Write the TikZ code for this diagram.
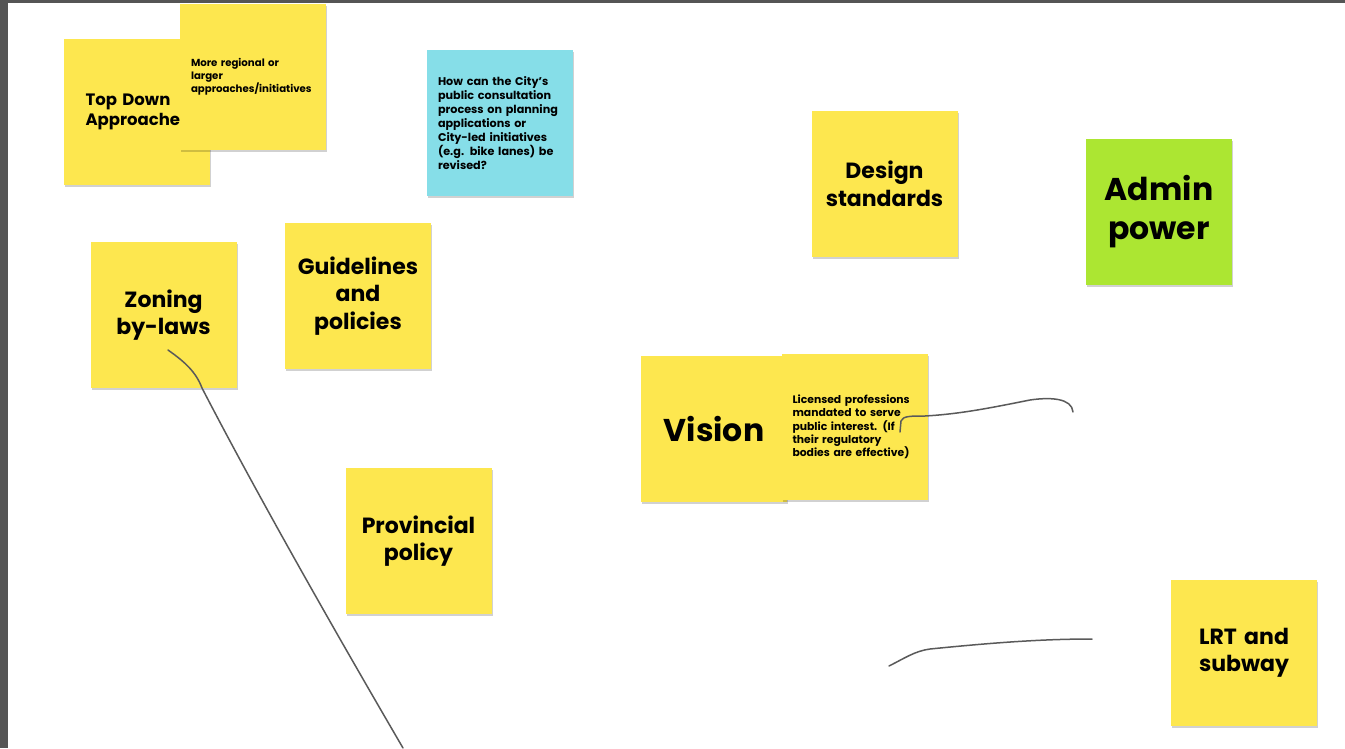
\documentclass[tikz,border=0pt]{standalone}
\usepackage{fontspec}
\setmainfont{Poppins}
\usetikzlibrary{shadows}
\definecolor{noteyellow}{HTML}{FDE74F}
\definecolor{noteblue}{HTML}{86DEE8}
\definecolor{notegreen}{HTML}{ACE632}
\definecolor{inkgray}{HTML}{5A5A5A}
\definecolor{framegray}{HTML}{555555}
\newcommand{\fsz}[2]{\fontsize{#1}{#2}\selectfont}
\begin{document}
\begin{tikzpicture}[x=1pt,y=-1pt,
  note/.style={rectangle, fill=noteyellow, minimum width=146pt, minimum height=146pt,
    inner sep=0pt,
    drop shadow={shadow xshift=1pt, shadow yshift=-2pt, fill=black, opacity=.18}},
  bignote/.style={note, align=center, text width=140pt, font=\bfseries\fsz{22}{27.5}},
  hugenote/.style={note, align=center, text width=140pt, font=\bfseries\fsz{31.5}{38.5}},
  smallnote/.style={note, align=left, text width=124pt, inner xsep=11pt},
  ink/.style={draw=inkgray, line width=1.5pt, line cap=round, line join=round}]
\useasboundingbox (0,0) rectangle (1345,748);
\fill[white] (0,0) rectangle (1345,748);
\fill[framegray] (0,0) rectangle (8,748);
\fill[framegray] (0,0) rectangle (1345,3);
% top left pair
\node[note, align=left, text width=102pt, inner xsep=22pt, font=\bfseries\fsz{16.5}{20}]
  (topdown) at (136.5,112) {Top Down\\Approache};
\node[smallnote, font=\bfseries\fsz{10.2}{13}] (regional) at (253,77)
  {More regional or\\larger\\approaches/initiatives};
\node[smallnote, fill=noteblue, font=\bfseries\fsz{11.2}{14}] (consult) at (500,123)
  {How can the City's\\public consultation\\process on planning\\applications or\\City-led initiatives\\(e.g. bike lanes) be\\revised?};
% right column
\node[bignote] (design) at (884.5,184) {Design\\standards};
\node[hugenote, fill=notegreen] (admin) at (1159,211.5) {Admin\\power};
\node[bignote] (zoning) at (163.5,315) {Zoning\\by-laws};
\node[bignote] (guide) at (358,296) {Guidelines\\and\\policies};
\node[hugenote] (vision) at (714,429) {Vision};
\node[smallnote, font=\bfseries\fsz{10.8}{13.3}] (licensed) at (854.5,427)
  {Licensed professions\\mandated to serve\\public interest. (If\\their regulatory\\bodies are effective)};
\node[bignote] (prov) at (418.5,541) {Provincial\\policy};
\node[bignote] (lrt) at (1244,653) {LRT and\\subway};
% pen strokes
\draw[ink] (168,350) .. controls (185,362) and (196,372) .. (202,388)
  .. controls (260,500) and (340,640) .. (403,748);
\draw[ink] (900,432) -- (901,421) .. controls (903,416) and (910,416) .. (925,416)
  .. controls (960,414) and (990,408) .. (1030,400)
  .. controls (1050,397) and (1072,398) .. (1073,412);
\draw[ink] (889,666) .. controls (905,658) and (915,651) .. (930,649)
  .. controls (990,643) and (1040,639) .. (1092,639);
\end{tikzpicture}
\end{document}
